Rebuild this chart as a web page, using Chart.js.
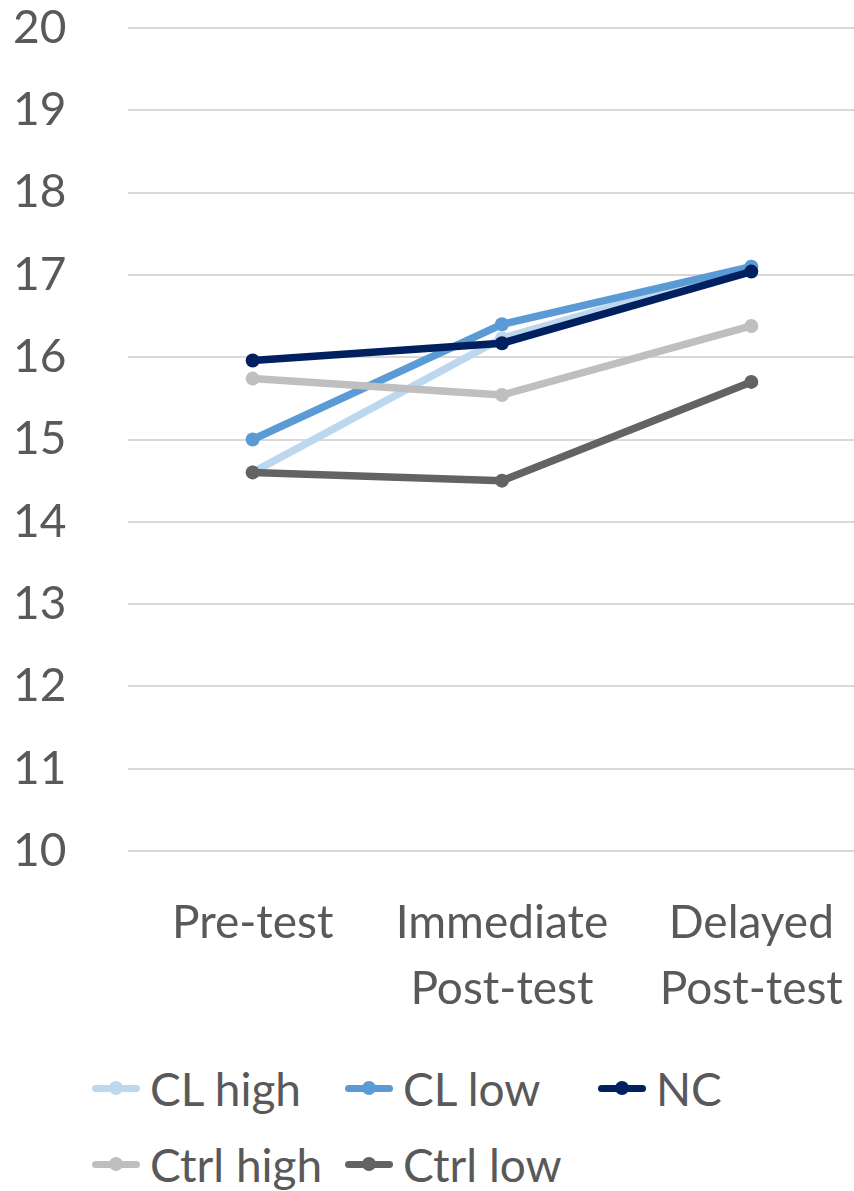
<!DOCTYPE html>
<html>
<head>
<meta charset="utf-8">
<script src="https://cdn.jsdelivr.net/npm/chart.js@4"></script>
<style>
  html, body { margin: 0; padding: 0; background: #fff; overflow: hidden; width: 854px; height: 1191px; }
  #wrap { position: absolute; left: 0; top: 0; width: 884px; height: 1040px; }
  #legend {
    position: absolute; left: 92px; top: 1052px;
    display: grid; grid-template-columns: 253px 253px 253px; row-gap: 4px;
    font-family: Lato, "Open Sans", sans-serif; font-size: 46px; color: #595959;
  }
  .item { display: flex; align-items: center; height: 72px; white-space: nowrap; }
  .mark { position: relative; width: 48px; height: 14px; margin-right: 10px; flex: none; }
  .mark .ln { position: absolute; left: 0; right: 0; top: 3.5px; height: 7px; border-radius: 4px; }
  .mark .dt { position: absolute; left: 17px; top: 0; width: 14px; height: 14px; border-radius: 50%; }
</style>
</head>
<body>
<div id="wrap"><canvas id="c" width="884" height="1040"></canvas></div>
<div id="legend"></div>
<script>
// Test phases (x axis) and mean scores per group
const categories = [["Pre-test"], ["Immediate", "Post-test"], ["Delayed", "Post-test"]];
const seriesNames = ["CL high", "CL low", "NC", "Ctrl high", "Ctrl low"];
const clHigh   = [14.60, 16.23, 17.10];
const clLow    = [15.00, 16.40, 17.10];
const nc       = [15.96, 16.17, 17.04];
const ctrlHigh = [15.74, 15.54, 16.38];
const ctrlLow  = [14.60, 14.50, 15.70];
const seriesColors = ["#BDD7EE", "#5B9BD5", "#002060", "#BFBFBF", "#636363"];
const yTicks = [10, 11, 12, 13, 14, 15, 16, 17, 18, 19, 20];

const seriesValues = [clHigh, clLow, nc, ctrlHigh, ctrlLow];
const FONT = "Lato, 'Open Sans', sans-serif";
const TEXT = "#595959";

const datasets = seriesNames.map((name, i) => ({
  label: name,
  data: seriesValues[i],
  borderColor: seriesColors[i],
  backgroundColor: seriesColors[i],
  borderWidth: 7.5,
  pointRadius: 7,
  pointHoverRadius: 7,
  pointBorderWidth: 0,
  tension: 0,
  // later series are painted over earlier ones
  order: seriesNames.length - 1 - i
}));

new Chart(document.getElementById("c"), {
  type: "line",
  data: { labels: categories, datasets },
  options: {
    responsive: false,
    animation: false,
    events: [],
    layout: { padding: { left: 13, top: 28, right: 0, bottom: 0 } },
    plugins: { legend: { display: false }, tooltip: { enabled: false } },
    scales: {
      x: {
        offset: true,
        grid: { display: false, drawTicks: false },
        border: { display: false },
        afterFit: (s) => { s.height = 189; },
        ticks: {
          color: TEXT, font: { family: FONT, size: 46, lineHeight: 1.42 }, padding: 40,
          maxRotation: 0, autoSkip: false
        }
      },
      y: {
        min: yTicks[0], max: yTicks[yTicks.length - 1],
        afterBuildTicks: (s) => { s.ticks = yTicks.map(v => ({ value: v })); },
        afterFit: (s) => { s.width = 115; },
        grid: { color: "#D9D9D9", lineWidth: 2, drawTicks: false },
        border: { display: false },
        ticks: {
          color: TEXT, font: { family: FONT, size: 46 },
          crossAlign: "far", padding: 0
        }
      }
    }
  }
});

// Legend laid out as a grid of line-and-dot markers with names
const legend = document.getElementById("legend");
seriesNames.forEach((name, i) => {
  const item = document.createElement("div");
  item.className = "item";
  const mark = document.createElement("div");
  mark.className = "mark";
  const ln = document.createElement("div");
  ln.className = "ln"; ln.style.background = seriesColors[i];
  const dt = document.createElement("div");
  dt.className = "dt"; dt.style.background = seriesColors[i];
  mark.appendChild(ln); mark.appendChild(dt);
  const txt = document.createElement("span");
  txt.textContent = name;
  item.appendChild(mark); item.appendChild(txt);
  legend.appendChild(item);
});
</script>
</body>
</html>
